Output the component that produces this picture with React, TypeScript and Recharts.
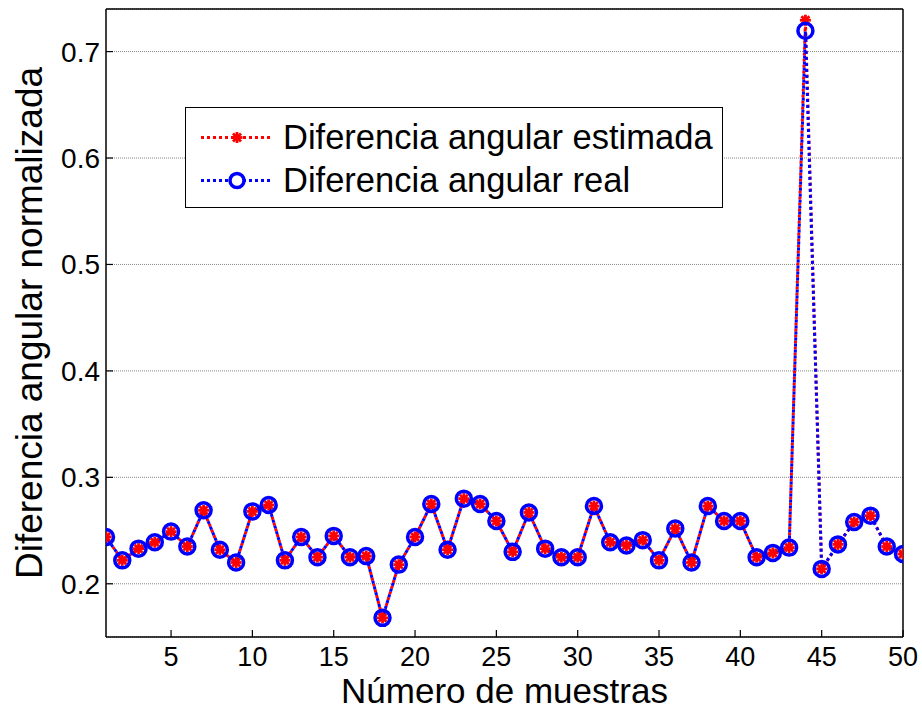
import { LineChart, Line, XAxis, YAxis, CartesianGrid, Legend } from "recharts";

const muestras = [
  1, 2, 3, 4, 5, 6, 7, 8, 9, 10, 11, 12, 13, 14, 15, 16, 17, 18, 19, 20, 21, 22, 23, 24, 25,
  26, 27, 28, 29, 30, 31, 32, 33, 34, 35, 36, 37, 38, 39, 40, 41, 42, 43, 44, 45, 46, 47, 48, 49, 50,
];

const estimada = [
  0.244, 0.222, 0.233, 0.239, 0.249, 0.235, 0.269, 0.232, 0.22, 0.268,
  0.274, 0.222, 0.244, 0.225, 0.245, 0.225, 0.226, 0.168, 0.218, 0.244,
  0.275, 0.232, 0.28, 0.275, 0.259, 0.23, 0.267, 0.233, 0.225, 0.225,
  0.273, 0.239, 0.236, 0.241, 0.222, 0.252, 0.22, 0.273, 0.259, 0.259,
  0.225, 0.229, 0.234, 0.7295, 0.214, 0.237, 0.258, 0.264, 0.235, 0.228,
];

const real = [
  0.244, 0.222, 0.233, 0.239, 0.249, 0.235, 0.269, 0.232, 0.22, 0.268,
  0.274, 0.222, 0.244, 0.225, 0.245, 0.225, 0.226, 0.168, 0.218, 0.244,
  0.275, 0.232, 0.28, 0.275, 0.259, 0.23, 0.267, 0.233, 0.225, 0.225,
  0.273, 0.239, 0.236, 0.241, 0.222, 0.252, 0.22, 0.273, 0.259, 0.259,
  0.225, 0.229, 0.234, 0.7195, 0.214, 0.237, 0.258, 0.264, 0.235, 0.228,
];

const xTicks = [5, 10, 15, 20, 25, 30, 35, 40, 45, 50];
const yTicks = [0.2, 0.3, 0.4, 0.5, 0.6, 0.7];

const data = muestras.map((m, i) => ({ muestra: m, estimada: estimada[i], real: real[i] }));

const FONT = "'Liberation Sans', Arial, sans-serif";
const RED = "#ff0000";
const BLUE = "#0000ff";

function StarDot(props: any) {
  const { cx, cy } = props;
  if (cx == null || cy == null) return <g />;
  const r = 5.5;
  const d = 4;
  return (
    <g stroke={RED} strokeWidth={2.8}>
      <line x1={cx - r} y1={cy} x2={cx + r} y2={cy} />
      <line x1={cx} y1={cy - r} x2={cx} y2={cy + r} />
      <line x1={cx - d} y1={cy - d} x2={cx + d} y2={cy + d} />
      <line x1={cx - d} y1={cy + d} x2={cx + d} y2={cy - d} />
    </g>
  );
}

function LegendBox(props: any) {
  const items = props.payload || [];
  return (
    <div
      style={{
        width: 538,
        height: 101,
        boxSizing: "border-box",
        border: "1.5px solid #000",
        background: "#fff",
        paddingTop: 8,
        fontFamily: FONT,
      }}
    >
      {items.map((it: any) => {
        const isReal = it.dataKey === "real";
        const color = isReal ? BLUE : RED;
        return (
          <div key={it.dataKey} style={{ display: "flex", alignItems: "center", height: 43 }}>
            <svg width={97} height={43} style={{ flex: "none" }}>
              <line x1={15} y1={21.5} x2={87} y2={21.5} stroke={color} strokeWidth={3} strokeDasharray="3 3" />
              {isReal ? (
                <circle cx={51} cy={21.5} r={7} fill="#fff" stroke={BLUE} strokeWidth={3.5} />
              ) : (
                <StarDot cx={51} cy={21.5} />
              )}
            </svg>
            <span style={{ fontSize: 34.5, color: "#000", whiteSpace: "nowrap" }}>{it.value}</span>
          </div>
        );
      })}
    </div>
  );
}

export default function App() {
  return (
    <div style={{ position: "absolute", left: 0, top: 0, background: "#fff" }}>
      <LineChart
        width={922}
        height={715}
        data={data}
        margin={{ top: 8, right: 18, bottom: 0, left: 0 }}
        style={{ fontFamily: FONT }}
      >
        <CartesianGrid vertical={false} stroke="#888" strokeDasharray="1 1" />
        <XAxis
          dataKey="muestra"
          type="number"
          domain={[1, 50]}
          ticks={xTicks}
          allowDataOverflow
          height={78}
          tickSize={-7}
          tickMargin={17}
          axisLine={{ stroke: "#000", strokeWidth: 1.5 }}
          tickLine={{ stroke: "#000", strokeWidth: 1.2 }}
          tick={{ fill: "#000", fontSize: 27 }}
          label={{ value: "Número de muestras", position: "insideBottom", offset: 12, fill: "#000", fontSize: 35 }}
        />
        <XAxis
          xAxisId="top"
          orientation="top"
          dataKey="muestra"
          type="number"
          domain={[1, 50]}
          ticks={xTicks}
          allowDataOverflow
          height={1}
          tickSize={-7}
          tick={false}
          axisLine={{ stroke: "#000", strokeWidth: 1.5 }}
          tickLine={{ stroke: "#000", strokeWidth: 1.2 }}
        />
        <YAxis
          type="number"
          domain={[0.15, 0.74]}
          ticks={yTicks}
          allowDataOverflow
          width={106}
          tickSize={-7}
          tickMargin={13}
          axisLine={{ stroke: "#000", strokeWidth: 1.5 }}
          tickLine={{ stroke: "#000", strokeWidth: 1.2 }}
          tick={{ fill: "#000", fontSize: 28 }}
          tickFormatter={(v: number) => v.toFixed(1)}
          label={{
            value: "Diferencia angular normalizada",
            angle: -90,
            position: "insideLeft",
            offset: 29,
            fill: "#000",
            fontSize: 37,
            style: { textAnchor: "middle" },
          }}
        />
        <YAxis
          yAxisId="right"
          orientation="right"
          type="number"
          domain={[0.15, 0.74]}
          ticks={yTicks}
          allowDataOverflow
          width={1}
          tickSize={-7}
          tick={false}
          axisLine={{ stroke: "#000", strokeWidth: 1.5 }}
          tickLine={{ stroke: "#000", strokeWidth: 1.2 }}
        />
        <Legend
          layout="horizontal"
          verticalAlign="middle"
          align="center"
          wrapperStyle={{ left: 185, top: 107, width: 538, height: 101 }}
          content={LegendBox}
        />
        <Line
          name="Diferencia angular estimada"
          dataKey="estimada"
          stroke={RED}
          strokeWidth={3}
          strokeDasharray="3 3"
          dot={StarDot}
          activeDot={false}
          isAnimationActive={false}
        />
        <Line
          name="Diferencia angular real"
          dataKey="real"
          stroke={BLUE}
          strokeWidth={3}
          strokeDasharray="3 3"
          strokeDashoffset={3}
          dot={{ r: 7.5, stroke: BLUE, strokeWidth: 3.5, fill: "none", strokeDasharray: "" }}
          activeDot={false}
          isAnimationActive={false}
        />
      </LineChart>
    </div>
  );
}
